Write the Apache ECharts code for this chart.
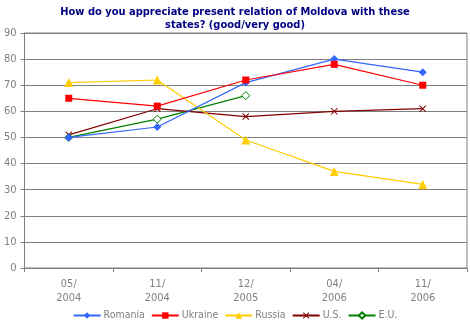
<!DOCTYPE html>
<html>
<head>
<meta charset="utf-8">
<script src="https://cdn.jsdelivr.net/npm/echarts@6/dist/echarts.min.js"></script>
<style>html,body{margin:0;padding:0;background:#fff}#c{width:470px;height:325px}</style>
</head>
<body>
<div id="c"></div>
<script>
var categories = ['05/\n2004', '11/\n2004', '12/\n2005', '04/\n2006', '11/\n2006'];
var romania = [50, 54, 71, 80, 75];
var ukraine = [65, 62, 72, 78, 70];
var russia = [71, 72, 49, 37, 32];
var us = [51, 61, 58, 60, 61];
var eu = [50, 57, 66, null, null];
var yTicks = {min: 0, max: 90, interval: 10};

var FONT = '"DejaVu Sans Condensed", "DejaVu Sans", sans-serif';
var GREY = '#808080';
var xPath = 'path://M0,1L1,0L5,4L9,0L10,1L6,5L10,9L9,10L5,6L1,10L0,9L4,5Z';

function mk(name, data, color, symbol, size, extra) {
  var s = {
    name: name, type: 'line', data: data, symbol: symbol, symbolSize: size,
    showAllSymbol: true, connectNulls: false,
    lineStyle: {color: color, width: 1.2},
    itemStyle: {color: color},
    emphasis: {disabled: true},
    animation: false
  };
  if (extra) Object.assign(s.itemStyle, extra);
  return s;
}

var chart = echarts.init(document.getElementById('c'), null, {renderer: 'canvas'});
chart.setOption({
  backgroundColor: '#fff',
  animation: false,
  title: {
    text: 'How do you appreciate present relation of Moldova with these\nstates? (good/very good)',
    left: 'center', top: 1,
    textStyle: {color: '#000080', fontFamily: FONT, fontWeight: 'bold', fontSize: 11, lineHeight: 13}
  },
  grid: {left: 24.5, right: 3, top: 33, bottom: 57, show: true, borderColor: GREY, borderWidth: 1, backgroundColor: '#fff'},
  xAxis: {
    type: 'category', data: categories, boundaryGap: true,
    axisLine: {lineStyle: {color: GREY, width: 1}},
    axisTick: {show: true, length: 4, lineStyle: {color: GREY}},
    axisLabel: {color: GREY, fontFamily: FONT, fontSize: 11, margin: 9, lineHeight: 14, interval: 0}
  },
  yAxis: {
    type: 'value', min: yTicks.min, max: yTicks.max, interval: yTicks.interval,
    axisLine: {show: true, lineStyle: {color: GREY, width: 1}},
    axisTick: {show: true, length: 4, lineStyle: {color: GREY}},
    splitLine: {show: true, lineStyle: {color: GREY, width: 1}},
    axisLabel: {color: GREY, fontFamily: FONT, fontSize: 11, margin: 8}
  },
  legend: {
    bottom: 4, left: 'center', padding: 0, itemWidth: 27, itemHeight: 8, itemGap: 6,
    textStyle: {color: GREY, fontFamily: FONT, fontSize: 10.5, padding: [0, 0, 0, -2]},
    data: ['Romania', 'Ukraine', 'Russia', 'U.S.', 'E.U.']
  },
  series: [
    mk('E.U.', eu, '#008000', 'diamond', 8, {color: '#ffffff', borderColor: '#008000', borderWidth: 1}),
    mk('U.S.', us, '#800000', xPath, 7),
    mk('Russia', russia, '#FFCC00', 'triangle', 9),
    mk('Romania', romania, '#3366FF', 'diamond', 8),
    mk('Ukraine', ukraine, '#FF0000', 'rect', 7)
  ]
});
</script>
</body>
</html>
